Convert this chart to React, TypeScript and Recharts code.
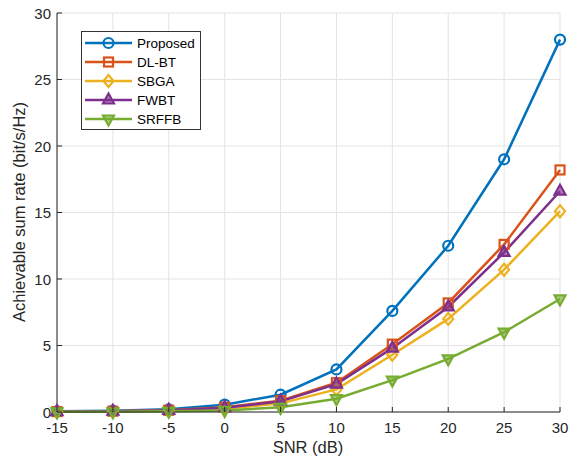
import React from "react"
import { LineChart, Line, XAxis, YAxis, CartesianGrid, Legend } from "recharts"

const snr = [-15, -10, -5, 0, 5, 10, 15, 20, 25, 30]
const proposed = [0.05, 0.1, 0.2, 0.55, 1.3, 3.2, 7.6, 12.5, 19.0, 28.0]
const dlbt = [0.03, 0.06, 0.13, 0.35, 0.85, 2.2, 5.1, 8.2, 12.6, 18.2]
const sbga = [0.02, 0.05, 0.1, 0.25, 0.65, 1.7, 4.3, 7.0, 10.7, 15.1]
const fwbt = [0.03, 0.06, 0.12, 0.32, 0.8, 2.1, 4.8, 7.9, 12.0, 16.6]
const srffb = [0.01, 0.02, 0.05, 0.12, 0.35, 1.0, 2.4, 4.0, 6.0, 8.5]
const xTicks = [-15, -10, -5, 0, 5, 10, 15, 20, 25, 30]
const yTicks = [0, 5, 10, 15, 20, 25, 30]

const series = [
  { key: "proposed", name: "Proposed", color: "#0072BD", shape: "circle" },
  { key: "dlbt", name: "DL-BT", color: "#D95319", shape: "square" },
  { key: "sbga", name: "SBGA", color: "#EDB120", shape: "diamond" },
  { key: "fwbt", name: "FWBT", color: "#7E2F8E", shape: "up" },
  { key: "srffb", name: "SRFFB", color: "#77AC30", shape: "down" },
]

const data = snr.map((x, i) => ({
  snr: x,
  proposed: proposed[i],
  dlbt: dlbt[i],
  sbga: sbga[i],
  fwbt: fwbt[i],
  srffb: srffb[i],
}))

const FONT = "'Liberation Sans', Arial, sans-serif"
const INK = "#262626"

function Marker({ shape, cx, cy, color }: { shape: string; cx: number; cy: number; color: string }) {
  const sw = 2.2
  if (shape === "circle") return <circle cx={cx} cy={cy} r={5} fill="none" stroke={color} strokeWidth={sw} />
  if (shape === "square")
    return <rect x={cx - 4.5} y={cy - 4.5} width={9} height={9} fill="none" stroke={color} strokeWidth={sw} />
  if (shape === "diamond")
    return (
      <polygon
        points={`${cx},${cy - 6} ${cx + 5},${cy} ${cx},${cy + 6} ${cx - 5},${cy}`}
        fill="none"
        stroke={color}
        strokeWidth={sw}
      />
    )
  if (shape === "up")
    return (
      <polygon
        points={`${cx},${cy - 6.5} ${cx + 5.5},${cy + 3.5} ${cx - 5.5},${cy + 3.5}`}
        fill={color}
        fillOpacity={0.6}
        stroke={color}
        strokeWidth={sw}
      />
    )
  return (
    <polygon
      points={`${cx},${cy + 6.5} ${cx + 5.5},${cy - 3.5} ${cx - 5.5},${cy - 3.5}`}
      fill={color}
      fillOpacity={0.6}
      stroke={color}
      strokeWidth={sw}
    />
  )
}

const XTick = (props: any) => {
  const { x, y, payload } = props
  return (
    <g>
      <line x1={x} x2={x} y1={y} y2={y - 5} stroke={INK} />
      <text x={x} y={y + 21} textAnchor="middle" fontSize={15} fill={INK} fontFamily={FONT}>
        {payload.value}
      </text>
    </g>
  )
}

const XTopTick = (props: any) => {
  const { x, y } = props
  return <line x1={x} x2={x} y1={y} y2={y + 5} stroke={INK} />
}

const YTick = (props: any) => {
  const { x, y, payload } = props
  return (
    <g>
      <line x1={x} x2={x + 5} y1={y} y2={y} stroke={INK} />
      <text x={x - 6} y={y + 5.5} textAnchor="end" fontSize={15} fill={INK} fontFamily={FONT}>
        {payload.value}
      </text>
    </g>
  )
}

const YRightTick = (props: any) => {
  const { x, y } = props
  return <line x1={x} x2={x - 5} y1={y} y2={y} stroke={INK} />
}

const LegendBox = () => (
  <svg width={120} height={99} style={{ display: "block" }}>
    <rect x={0.5} y={0.5} width={119} height={98} fill="#fff" stroke="#333" />
    {series.map((s, i) => {
      const cy = 12 + i * 19
      return (
        <g key={s.key}>
          <line x1={4} x2={51} y1={cy} y2={cy} stroke={s.color} strokeWidth={2.5} />
          <Marker shape={s.shape} cx={27.5} cy={cy} color={s.color} />
          <text x={56} y={cy + 5} fontSize={13.5} fill="#000" fontFamily={FONT}>
            {s.name}
          </text>
        </g>
      )
    })}
  </svg>
)

export default function App() {
  return (
    <div style={{ position: "absolute", left: 0, top: 0, background: "#fff" }}>
      <LineChart width={569} height={461} data={data} margin={{ top: 13, right: 9, bottom: 0, left: 0 }}>
        <CartesianGrid stroke="#e3e3e3" strokeWidth={1} />
        <XAxis
          dataKey="snr"
          type="number"
          domain={[-15, 30]}
          ticks={xTicks}
          tick={<XTick />}
          tickLine={false}
          tickSize={0}
          tickMargin={0}
          height={49}
          stroke={INK}
          label={{
            content: () => (
              <text x={308} y={453} textAnchor="middle" fontSize={16.5} fill={INK} fontFamily={FONT}>
                SNR (dB)
              </text>
            ),
          }}
        />
        <XAxis
          xAxisId="top"
          orientation="top"
          dataKey="snr"
          type="number"
          domain={[-15, 30]}
          ticks={xTicks}
          tick={<XTopTick />}
          tickLine={false}
          tickSize={0}
          tickMargin={0}
          height={0}
          stroke={INK}
        />
        <YAxis
          type="number"
          domain={[0, 30]}
          ticks={yTicks}
          tick={<YTick />}
          tickLine={false}
          tickSize={0}
          tickMargin={0}
          width={57}
          stroke={INK}
          label={{
            content: () => (
              <text
                x={25}
                y={212}
                transform="rotate(-90 25 212)"
                textAnchor="middle"
                fontSize={16.5}
                fill={INK}
                fontFamily={FONT}
              >
                Achievable sum rate (bit/s/Hz)
              </text>
            ),
          }}
        />
        <YAxis
          yAxisId="right"
          orientation="right"
          type="number"
          domain={[0, 30]}
          ticks={yTicks}
          tick={<YRightTick />}
          tickLine={false}
          tickSize={0}
          tickMargin={0}
          width={0}
          stroke={INK}
        />
        {series.map((s) => (
          <Line
            key={s.key}
            dataKey={s.key}
            name={s.name}
            stroke={s.color}
            strokeWidth={2.5}
            isAnimationActive={false}
            dot={(p: any) => <Marker key={p.index} shape={s.shape} cx={p.cx} cy={p.cy} color={s.color} />}
            activeDot={false}
          />
        ))}
        <Legend
          layout="vertical"
          align="center"
          verticalAlign="middle"
          content={() => <LegendBox />}
          wrapperStyle={{ position: "absolute", left: 81, top: 31, width: 120, height: 99 }}
        />
      </LineChart>
    </div>
  )
}
